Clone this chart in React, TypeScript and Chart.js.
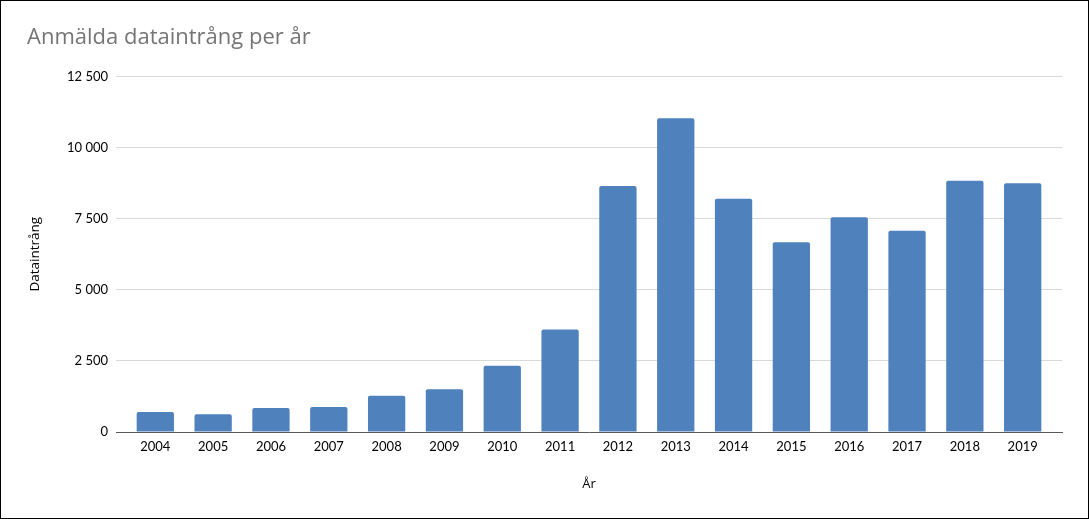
import React, { useEffect, useRef } from "react";
import { Chart, registerables } from "chart.js";

Chart.register(...registerables);

const categories = ["2004", "2005", "2006", "2007", "2008", "2009", "2010", "2011", "2012", "2013", "2014", "2015", "2016", "2017", "2018", "2019"];
const values = [700, 620, 840, 880, 1275, 1500, 2330, 3605, 8650, 11030, 8200, 6670, 7550, 7070, 8835, 8745];
const yTicks = [0, 2500, 5000, 7500, 10000, 12500];

const titleText = "Anmälda dataintrång per år";
const yTitle = "Dataintrång";
const xTitle = "År";

const FONT = "Lato, 'Open Sans', sans-serif";
const TITLE_FONT = "'Open Sans', Lato, sans-serif";

// extra gap (in categories) at both ends of the category axis
const EDGE_GAP = 0.18;

function fmt(v: number): string {
  const s = String(Math.round(v));
  return s.replace(/\B(?=(\d{3})+(?!\d))/g, " ");
}

const edgeGapPlugin = {
  id: "edgeGap",
  afterLayout(chart: any) {
    const x = chart.scales.x;
    if (!x) return;
    x._startValue = -0.5 - EDGE_GAP;
    x._valueRange = categories.length + 2 * EDGE_GAP;
  },
};

export default function App() {
  const ref = useRef<HTMLCanvasElement | null>(null);
  useEffect(() => {
    if (!ref.current) return;
    const chart = new Chart(ref.current, {
      type: "bar",
      plugins: [edgeGapPlugin],
      data: {
        labels: categories,
        datasets: [
          {
            data: values,
            backgroundColor: "#4F81BD",
            borderWidth: 0,
            borderRadius: 2,
            borderSkipped: "bottom",
            barPercentage: 0.645,
            categoryPercentage: 1,
          },
        ],
      },
      options: {
        responsive: false,
        animation: false,
        layout: { padding: { left: 26, right: 26, top: 0, bottom: 0 } },
        plugins: {
          legend: { display: false },
          tooltip: { enabled: false },
          title: {
            display: true,
            text: titleText,
            align: "start",
            color: "#757575",
            font: { family: TITLE_FONT, size: 22, weight: "normal" },
            padding: { top: 24, bottom: 25 },
          },
        },
        scales: {
          x: {
            grid: { display: false, drawTicks: false },
            border: { display: true, color: "#595959", width: 1 },
            ticks: {
              color: "#000",
              font: { family: FONT, size: 13 },
              padding: 7,
              maxRotation: 0,
            },
            title: {
              display: true,
              text: xTitle,
              color: "#000",
              font: { family: TITLE_FONT, size: 13 },
              padding: { top: 0, bottom: 26 },
            },
            afterFit: (scale: any) => {
              scale.height = 86;
            },
          },
          y: {
            min: 0,
            max: 12500,
            afterBuildTicks: (scale: any) => {
              scale.ticks = yTicks.map((v) => ({ value: v }));
            },
            grid: {
              drawTicks: false,
              color: (ctx: any) => (ctx.tick && ctx.tick.value === 0 ? "rgba(0,0,0,0)" : "#D9D9D9"),
              lineWidth: 1,
            },
            border: { display: false },
            ticks: {
              color: "#000",
              font: { family: FONT, size: 13 },
              padding: 8,
              callback: (v: any) => fmt(Number(v)),
            },
            title: {
              display: true,
              text: yTitle,
              color: "#000",
              font: { family: TITLE_FONT, size: 13.5 },
              padding: { top: 0, bottom: 0 },
            },
            afterFit: (scale: any) => {
              scale.width = 89;
            },
          },
        },
      },
    });
    return () => chart.destroy();
  }, []);

  return (
    <div
      style={{
        position: "absolute",
        left: 0,
        top: 0,
        width: 1089,
        height: 519,
        border: "1px solid #000",
        boxSizing: "border-box",
        background: "#fff",
      }}
    >
      <canvas ref={ref} width={1087} height={517} style={{ display: "block" }} />
    </div>
  );
}
